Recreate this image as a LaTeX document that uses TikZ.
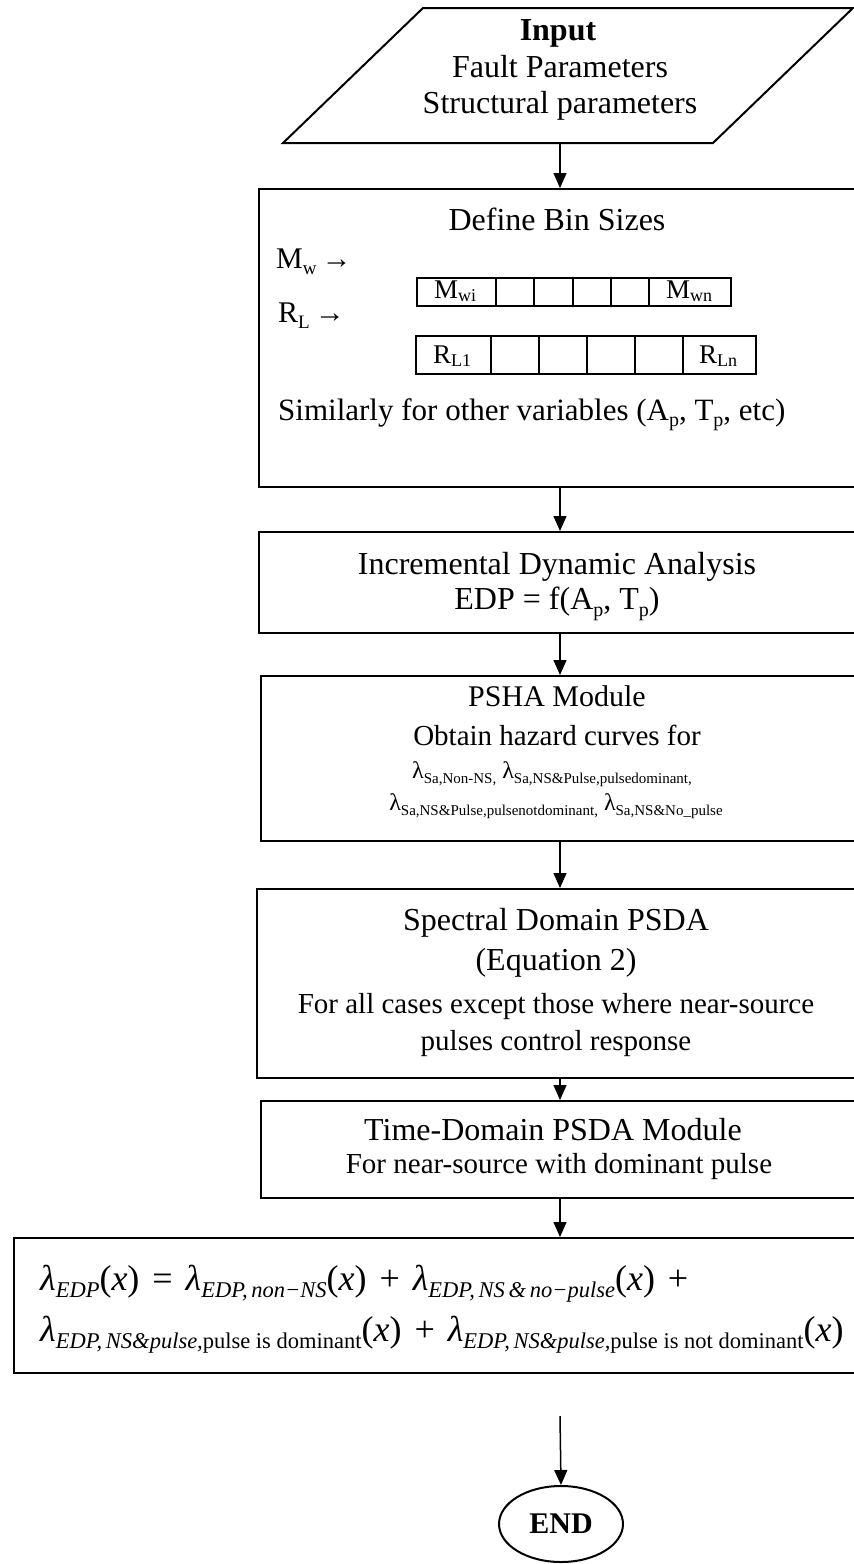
\documentclass[tikz,border=0pt]{standalone}
\usepackage{fontspec}
\setmainfont{Liberation Serif}
\usetikzlibrary{arrows.meta,shapes.geometric}
\newcommand\lo[2][20]{\raisebox{-0.22em}{\fontsize{#1}{#1}\selectfont #2}}
\newcommand\clo[1]{\raisebox{-0.12em}{\fontsize{18}{18}\selectfont #1}}
\newcommand\lamsub[1]{{\itshape λ}\raisebox{-0.2em}{\fontsize{22.5}{23}\selectfont\itshape #1}}
\newcommand\xarg{(\textit{x})}
\newcommand\op[1]{\hspace{0.36em}#1\hspace{0.36em}}
\tikzset{
  box/.style={draw, line width=2pt, rectangle, anchor=north west, inner sep=0pt},
  cell/.style={draw, line width=2pt, rectangle, anchor=north west, inner sep=0pt},
  conn/.style={line width=1.5pt, -{Triangle[width=13pt,length=15pt]}},
  tbig/.style={font=\fontsize{32}{38}\selectfont, anchor=base, inner sep=0pt},
  tsmall/.style={font=\fontsize{29}{34}\selectfont, anchor=base, inner sep=0pt},
  tcell/.style={font=\fontsize{27}{30}\selectfont, anchor=base, inner sep=0pt},
  tlam/.style={font=\fontsize{24}{28}\selectfont, anchor=base, inner sep=0pt},
  tform/.style={font=\fontsize{36}{40}\selectfont, anchor=base west, inner sep=0pt},
}
\begin{document}
\begin{tikzpicture}[x=1pt,y=-1pt]
\useasboundingbox (0,0) rectangle (854,1564);
\clip (0,0) rectangle (854,1564);
\coordinate (ax) at (560,0);

% input parallelogram
\draw[line width=2pt] (283,143) -- (423,8) -- (853,8) -- (713,143) -- cycle;
\coordinate (pbot) at (560,143);
\node[tbig, font=\fontsize{32}{38}\selectfont\bfseries] (in1) at (558,40) {Input};
\node[tbig] (in2) at (560,77) {Fault Parameters};
\node[tbig] (in3) at (560,113) {Structural parameters};

% define bin sizes
\node[box, minimum width=622pt, minimum height=298pt] (bin) at (258,188) {};
\node[tbig] (binT) at (557,230) {Define Bin Sizes};
\node[tbig, font=\fontsize{30}{36}\selectfont, anchor=base west] (mwL) at (276,268) {M\lo[19]{w}\,→};
\node[tbig, font=\fontsize{30}{36}\selectfont, anchor=base west] (rlL) at (278,322) {R\lo[19]{L}\,→};
\node[cell, minimum width=79pt, minimum height=28pt] (m1) at (416,277) {};
\node[cell, minimum width=38pt, minimum height=28pt] (m2) at (495,277) {};
\node[cell, minimum width=39pt, minimum height=28pt] (m3) at (533,277) {};
\node[cell, minimum width=38pt, minimum height=28pt] (m4) at (572,277) {};
\node[cell, minimum width=38pt, minimum height=28pt] (m5) at (610,277) {};
\node[cell, minimum width=82pt, minimum height=28pt] (m6) at (648,277) {};
\node[tcell] (m1t) at (455,298) {M\clo{wi}};
\node[tcell] (m6t) at (689,298) {M\clo{wn}};
\node[cell, minimum width=75pt, minimum height=38pt] (r1) at (415,335) {};
\node[cell, minimum width=48pt, minimum height=38pt] (r2) at (490,335) {};
\node[cell, minimum width=48pt, minimum height=38pt] (r3) at (538,335) {};
\node[cell, minimum width=48pt, minimum height=38pt] (r4) at (586,335) {};
\node[cell, minimum width=48pt, minimum height=38pt] (r5) at (634,335) {};
\node[cell, minimum width=73pt, minimum height=38pt] (r6) at (682,335) {};
\node[tcell] (r1t) at (452,363) {R\clo{L1}};
\node[tcell] (r6t) at (718,363) {R\clo{Ln}};
\node[tbig, font=\fontsize{31}{36}\selectfont, anchor=base west] (sim) at (278,420) {Similarly for other variables (A\lo{p}, T\lo{p}, etc)};

% IDA
\node[box, minimum width=622pt, minimum height=101pt] (ida) at (258,531) {};
\node[tbig] (ida1) at (557,574) {Incremental Dynamic Analysis};
\node[tbig] (ida2) at (557,609) {EDP = f(A\lo{p}, T\lo{p})};

% PSHA
\node[box, minimum width=620pt, minimum height=165pt] (psha) at (260,675) {};
\node[tbig, font=\fontsize{30}{36}\selectfont] (ps1) at (557,706) {PSHA Module};
\node[tsmall] (ps2) at (557,745) {Obtain hazard curves for};
\node[tlam] (ps3) at (552,778) {λ\lo[15]{Sa,Non-NS,} λ\lo[15]{Sa,NS\&Pulse,pulsedominant,}};
\node[tlam] (ps4) at (556,810) {λ\lo[15]{Sa,NS\&Pulse,pulsenotdominant,} λ\lo[15]{Sa,NS\&No\_pulse}};

% Spectral
\node[box, minimum width=624pt, minimum height=189pt] (spec) at (256,888) {};
\node[tbig] (sp1) at (556,930) {Spectral Domain PSDA};
\node[tbig] (sp2) at (556,970) {(Equation 2)};
\node[tsmall] (sp3) at (556,1013) {For all cases except those where near-source};
\node[tsmall] (sp4) at (556,1050) {pulses control response};

% Time domain
\node[box, minimum width=620pt, minimum height=97pt] (time) at (260,1100) {};
\node[tbig] (tm1) at (553,1140) {Time-Domain PSDA Module};
\node[tsmall] (tm2) at (559,1173) {For near-source with dominant pulse};

% final formula
\node[box, minimum width=867pt, minimum height=135pt] (fin) at (13,1237) {};
\node[tform] (f1) at (40,1290) {\lamsub{EDP}\xarg\op{=}\lamsub{EDP,\,non−NS}\xarg\op{+}\lamsub{EDP,\,NS\,\&\,no−pulse}\xarg\op{+}};
\node[tform] (f2) at (40,1341) {\lamsub{EDP,\,NS\&pulse,{\upshape pulse is dominant}}\xarg\op{+}\lamsub{EDP,\,NS\&pulse,{\upshape pulse is not dominant}}\xarg};

% end
\node[draw, ellipse, line width=2pt, minimum width=124pt, minimum height=76pt, inner sep=0pt, font=\fontsize{30}{30}\selectfont\bfseries] (end) at (561,1524) {END};
\coordinate (endin) at (560,1416);

% connectors
\draw[conn] (pbot) -- (ax |- bin.north);
\draw[conn] (ax |- bin.south) -- (ax |- ida.north);
\draw[conn] (ax |- ida.south) -- (ax |- psha.north);
\draw[conn] (ax |- psha.south) -- (ax |- spec.north);
\draw[conn] (ax |- spec.south) -- (ax |- time.north);
\draw[conn] (ax |- time.south) -- (ax |- fin.north);
\draw[conn] (endin) -- (end.north);
\end{tikzpicture}
\end{document}
